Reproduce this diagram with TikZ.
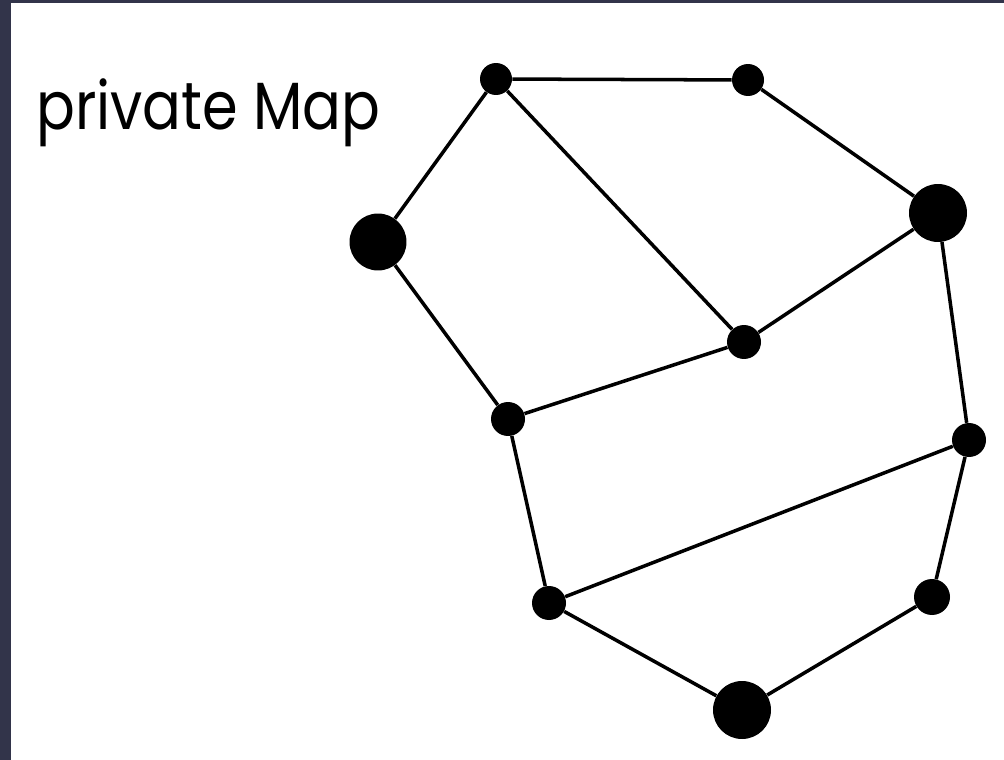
\documentclass[tikz,border=0pt]{standalone}
\usepackage{fontspec}
\setmainfont{Poppins}
\definecolor{frame}{RGB}{50,52,74}
\tikzset{
  dot/.style={circle,fill=black,inner sep=0pt,minimum size=#1},
  edge/.style={line width=2pt,black},
}
\begin{document}
\begin{tikzpicture}[x=0.02cm,y=-0.02cm]
\useasboundingbox (0,0) rectangle (1004,760);
\fill[white] (0,0) rectangle (1004,760);
\fill[frame] (0,0) rectangle (11,760);
\fill[frame] (0,0) rectangle (1004,3);
\node[anchor=base west,inner sep=0pt,xscale=0.86,font=\fontsize{38}{44}\selectfont] (title) at (36,130) {private Map};
\node[dot=0.64cm] (A) at (496,79) {};
\node[dot=0.64cm] (B) at (748,80) {};
\node[dot=1.14cm] (C) at (378,242) {};
\node[dot=1.16cm] (D) at (938,213) {};
\node[dot=0.68cm] (E) at (744,342) {};
\node[dot=0.68cm] (F) at (508,419) {};
\node[dot=0.68cm] (G) at (969,440) {};
\node[dot=0.68cm] (H) at (549,603) {};
\node[dot=0.72cm] (I) at (932,597) {};
\node[dot=1.16cm] (J) at (742,710) {};
\draw[edge] (A)--(B) (A)--(C) (A)--(E) (B)--(D) (D)--(E) (D)--(G)
  (C)--(F) (F)--(E) (F)--(H) (H)--(G) (G)--(I) (H)--(J) (J)--(I);
\end{tikzpicture}
\end{document}
